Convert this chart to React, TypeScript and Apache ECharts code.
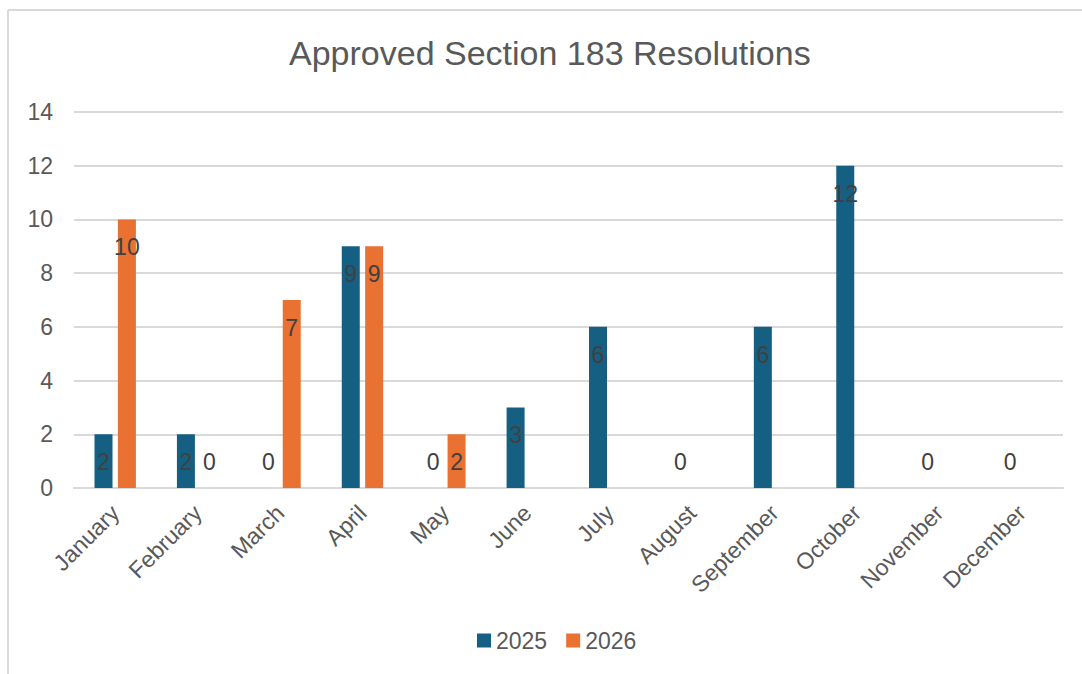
import React, { useEffect, useRef } from "react";
import * as echarts from "echarts";

const months = ["January", "February", "March", "April", "May", "June", "July", "August", "September", "October", "November", "December"];
const values2025: (number | null)[] = [2, 2, 0, 9, 0, 3, 6, 0, 6, 12, 0, 0];
const values2026: (number | null)[] = [10, 0, 7, 9, 2, null, null, null, null, null, null, null];
const yTicks = { min: 0, max: 14, interval: 2 };
const titleText = "Approved Section 183 Resolutions";

const FONT = "'Liberation Sans', Arial, sans-serif";

function items(vals: (number | null)[]) {
  return vals.map((v) =>
    v === null
      ? "-"
      : v === 0
      ? { value: v, label: { position: "top", distance: 14 } }
      : { value: v }
  );
}

export default function App() {
  const ref = useRef<HTMLDivElement>(null);
  useEffect(() => {
    if (!ref.current) return;
    const chart = echarts.init(ref.current, null, { renderer: "svg" });
    const label = {
      show: true,
      position: "insideTop",
      distance: 16,
      color: "#404040",
      fontSize: 23,
      lineHeight: 24,
      fontFamily: FONT,
    };
    chart.setOption({
      animation: false,
      backgroundColor: "#ffffff",
      textStyle: { fontFamily: FONT },
      title: {
        text: titleText,
        left: 289,
        top: 36,
        padding: 0,
        textStyle: { fontSize: 34, fontWeight: "normal", color: "#595959", fontFamily: FONT },
      },
      legend: {
        data: ["2025", "2026"],
        left: 477,
        top: 629,
        padding: 0,
        itemWidth: 14,
        itemHeight: 14,
        itemGap: 19,
        icon: "rect",
        textStyle: { fontSize: 23, color: "#595959", fontFamily: FONT },
      },
      grid: { left: 74, right: 19, top: 112, bottom: 186, containLabel: false },
      xAxis: {
        type: "category",
        data: months,
        axisLine: { show: true, lineStyle: { color: "#d9d9d9", width: 2 } },
        axisTick: { show: false },
        axisLabel: {
          rotate: 45,
          interval: 0,
          margin: 21,
          fontSize: 23,
          color: "#595959",
          fontFamily: FONT,
        },
      },
      yAxis: {
        type: "value",
        min: yTicks.min,
        max: yTicks.max,
        interval: yTicks.interval,
        axisLine: { show: false },
        axisTick: { show: false },
        splitLine: { lineStyle: { color: "#d9d9d9", width: 2 } },
        axisLabel: { margin: 21, fontSize: 23, color: "#595959", fontFamily: FONT },
      },
      graphic: [
        { type: "line", shape: { x1: 8, y1: 10, x2: 1082, y2: 10 }, style: { stroke: "#d9d9d9", lineWidth: 2 } },
        { type: "line", shape: { x1: 8, y1: 10, x2: 8, y2: 674 }, style: { stroke: "#d9d9d9", lineWidth: 2 } },
      ],
      series: [
        {
          name: "2025",
          type: "bar",
          data: items(values2025),
          barWidth: 18,
          barGap: "30%",
          itemStyle: { color: "#156082" },
          label,
        },
        {
          name: "2026",
          type: "bar",
          data: items(values2026),
          barWidth: 18,
          barGap: "30%",
          itemStyle: { color: "#E97132" },
          label,
        },
      ],
    });
    return () => chart.dispose();
  }, []);
  return (
    <div
      ref={ref}
      style={{ position: "fixed", left: 0, top: 0, width: 1082, height: 674 }}
    />
  );
}
